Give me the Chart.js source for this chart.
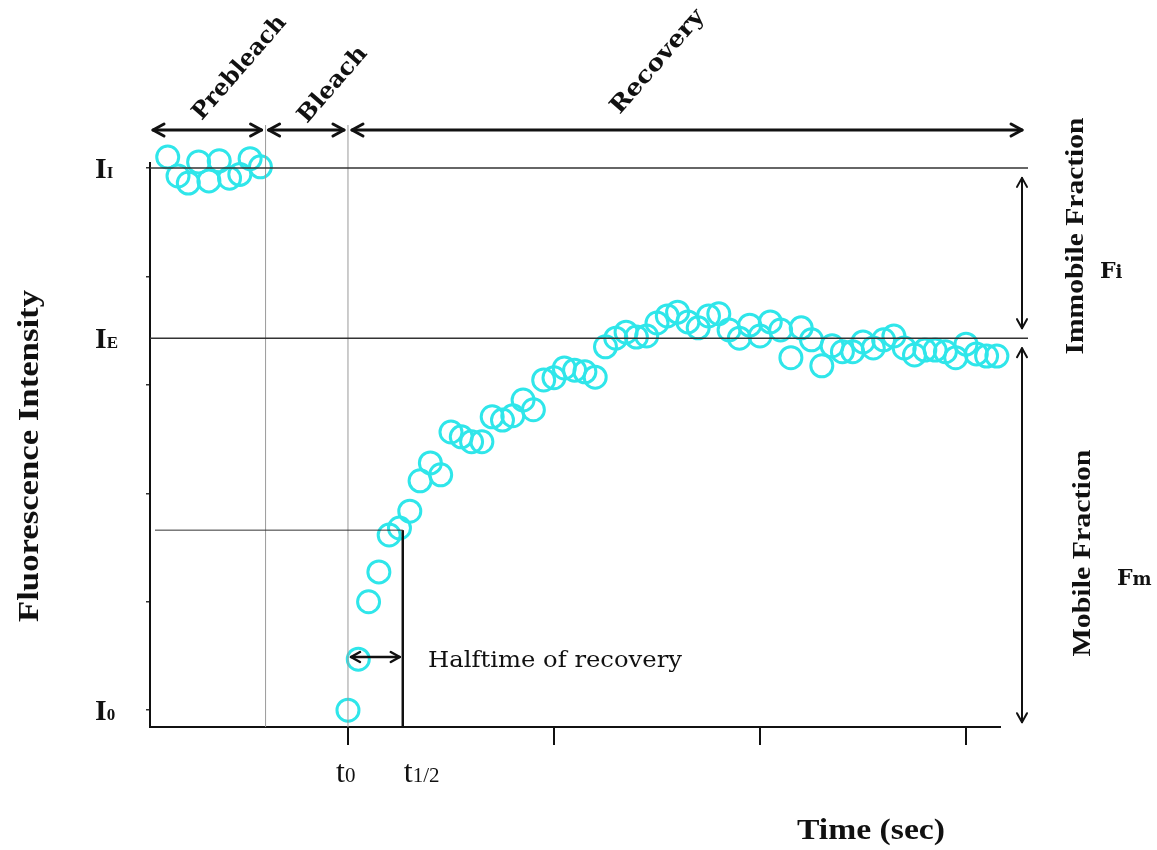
<!DOCTYPE html>
<html><head><meta charset="utf-8">
<script src="https://cdn.jsdelivr.net/npm/chart.js@4/dist/chart.umd.min.js"></script>
<style>html,body{margin:0;padding:0;background:#fff}#wrap{width:1157px;height:850px;position:relative}</style>
</head><body><div id="wrap"><canvas id="c"></canvas></div>
<script>
// ---- data (time in sec, intensity in % of prebleach) ----
const prebleachTime = [-8.75,-8.25,-7.75,-7.25,-6.75,-6.25,-5.75,-5.25,-4.75,-4.25];
const prebleachIntensity = [102.0,98.5,97.2,101.1,97.6,101.3,98.1,98.8,101.7,100.2];
const recoveryTime = [0,0.5,1,1.5,2,2.5,3,3.5,4,4.5,5,5.5,6,6.5,7,7.5,8,8.5,9,9.5,
  10,10.5,11,11.5,12,12.5,13,13.5,14,14.5,15,15.5,16,16.5,17,17.5,18,18.5,19,19.5,
  20,20.5,21,21.5,22,22.5,23,23.5,24,24.5,25,25.5,26,26.5,27,27.5,28,28.5,29,29.5,
  30,30.5,31,31.5];
const recoveryIntensity = [0.0,9.4,20.0,25.5,32.3,33.6,36.7,42.3,45.6,43.4,
  51.3,50.4,49.5,49.5,54.1,53.5,54.3,57.2,55.4,60.9,
  61.3,63.1,62.7,62.4,61.4,67.0,68.6,69.7,68.8,69.0,
  71.4,72.7,73.4,71.6,70.5,72.7,73.1,70.1,68.6,71.0,
  69.0,71.6,70.1,65.0,70.5,68.3,63.5,67.2,66.1,66.1,
  67.9,66.8,68.3,69.0,66.8,65.5,66.4,66.4,66.1,65.0,
  67.5,65.7,65.3,65.3];
const xTickValues = [0,10,20,30];
const yTickValues = [0,20,40,60,80,100];
const levelValues = [100, 68.6, 0];          // I_I, I_E, I_0
const levelSubs = ['I','E','0'];
const halfLevel = 33.2;                        // half of recovered intensity
const tHalf = 2.66;
const bleachStart = -4.0;
const phaseNames = ['Prebleach','Bleach','Recovery'];
const phaseBounds = [-9.61, -4.0, 0, 32.72];

const toPts = (xs, ys) => xs.map((x,i)=>({x:x, y:ys[i]}));

function drawText(ctx, s, x, y, font, o) {
  o = o || {};
  ctx.save();
  ctx.translate(x, y);
  if (o.rot) ctx.rotate(o.rot);
  ctx.font = font;
  ctx.textAlign = o.align || 'center';
  ctx.textBaseline = o.base || 'middle';
  ctx.fillStyle = o.color || '#111';
  if (o.width) { const w = ctx.measureText(s).width; ctx.scale(o.width / w, 1); }
  ctx.fillText(s, 0, 0);
  ctx.restore();
}
function subText(ctx, main, sub, x, base, f1, f2) {
  ctx.save();
  ctx.fillStyle = '#111';
  ctx.textAlign = 'left'; ctx.textBaseline = 'alphabetic';
  ctx.font = f1; ctx.fillText(main, x, base);
  const w = ctx.measureText(main).width;
  ctx.font = f2; ctx.fillText(sub, x + w, base);
  ctx.restore();
}
function line(ctx, x1, y1, x2, y2, lw, col) {
  ctx.save(); ctx.beginPath(); ctx.moveTo(x1, y1); ctx.lineTo(x2, y2);
  ctx.lineWidth = lw; ctx.strokeStyle = col; ctx.stroke(); ctx.restore();
}
function dblArrow(ctx, x1, y1, x2, y2, lw, hl, hw) {
  const a = Math.atan2(y2 - y1, x2 - x1);
  ctx.save();
  ctx.strokeStyle = '#111'; ctx.lineWidth = lw; ctx.lineCap = 'round'; ctx.lineJoin = 'round';
  ctx.beginPath(); ctx.moveTo(x1, y1); ctx.lineTo(x2, y2); ctx.stroke();
  [[x1, y1, a + Math.PI], [x2, y2, a]].forEach(([x, y, ang]) => {
    ctx.beginPath();
    ctx.moveTo(x - hl * Math.cos(ang) + hw * Math.sin(ang), y - hl * Math.sin(ang) - hw * Math.cos(ang));
    ctx.lineTo(x, y);
    ctx.lineTo(x - hl * Math.cos(ang) - hw * Math.sin(ang), y - hl * Math.sin(ang) + hw * Math.cos(ang));
    ctx.stroke();
  });
  ctx.restore();
}

const annot = {
  id: 'annot',
  afterDraw(chart) {
    const ctx = chart.ctx, xs = chart.scales.x, ys = chart.scales.y, ca = chart.chartArea;
    const X = v => xs.getPixelForValue(v), Y = v => ys.getPixelForValue(v);
    const rightEnd = 1028;
    // gray phase separators
    line(ctx, X(bleachStart), 125, X(bleachStart), ca.bottom, 1, '#9a9a9a');
    line(ctx, X(0), 125, X(0), ca.bottom, 1, '#9a9a9a');
    // level lines
    line(ctx, ca.left, Y(levelValues[0]), rightEnd, Y(levelValues[0]), 1.5, '#333');
    line(ctx, ca.left, Y(levelValues[1]), rightEnd, Y(levelValues[1]), 1.5, '#333');
    // half recovery
    line(ctx, ca.left + 5, Y(halfLevel), X(tHalf), Y(halfLevel), 1, '#333');
    line(ctx, X(tHalf), Y(halfLevel), X(tHalf), ca.bottom, 2.5, '#111');
    // halftime arrow
    dblArrow(ctx, X(0) + 3, 657, X(tHalf) - 3, 657, 2.5, 9, 5);
    drawText(ctx, 'Halftime of recovery', 555, 661, '22px "DejaVu Serif"', {width: 254});
    // top phase arrows
    const ay = 130;
    dblArrow(ctx, X(phaseBounds[0]) + 3, ay, X(phaseBounds[1]) - 4, ay, 3, 11, 6);
    dblArrow(ctx, X(phaseBounds[1]) + 3, ay, X(phaseBounds[2]) - 4, ay, 3, 11, 6);
    dblArrow(ctx, X(phaseBounds[2]) + 4, ay, X(phaseBounds[3]), ay, 3, 11, 6);
    const rot = -49 * Math.PI / 180;
    drawText(ctx, phaseNames[0], 240, 68, 'bold 23px "DejaVu Serif"', {rot: rot, width: 130});
    drawText(ctx, phaseNames[1], 333, 85, 'bold 23px "DejaVu Serif"', {rot: rot, width: 93});
    drawText(ctx, phaseNames[2], 658, 62, 'bold 23px "DejaVu Serif"', {rot: rot, width: 130});
    // right fraction arrows
    dblArrow(ctx, 1022, Y(levelValues[0]) + 10, 1022, Y(levelValues[1]) - 10, 2, 9, 5);
    dblArrow(ctx, 1022, Y(levelValues[1]) + 10, 1022, Y(levelValues[2]) + 12, 2, 9, 5);
    drawText(ctx, 'Immobile Fraction', 1076, 236, 'bold 26px "Liberation Serif"', {rot: -Math.PI / 2, width: 237});
    drawText(ctx, 'Mobile Fraction', 1083, 553, 'bold 26px "Liberation Serif"', {rot: -Math.PI / 2, width: 207});
    subText(ctx, 'F', 'i', 1100, 278, 'bold 22px "DejaVu Serif"', 'bold 18px "DejaVu Serif"');
    subText(ctx, 'F', 'm', 1117, 585, 'bold 22px "DejaVu Serif"', 'bold 18px "DejaVu Serif"');
    // y level labels
    levelValues.forEach((v, i) => {
      subText(ctx, 'I', levelSubs[i], 95, Y(v) + 10, 'bold 30px "Liberation Serif"', 'bold 17px "Liberation Serif"');
    });
    // t labels
    subText(ctx, 't', '0', 336, 782, '32px "Liberation Serif"', '21px "Liberation Serif"');
    subText(ctx, 't', '1/2', X(tHalf) + 1, 782, '32px "Liberation Serif"', '21px "Liberation Serif"');
    // axis titles
    drawText(ctx, 'Fluorescence Intensity', 30, 456, 'bold 30px "Liberation Serif"', {rot: -Math.PI / 2, width: 332});
    drawText(ctx, 'Time (sec)', 871, 831, 'bold 30px "Liberation Serif"', {width: 148});
  }
};

const cyan = '#2fe6ea';
new Chart(document.getElementById('c'), {
  type: 'scatter',
  data: {
    datasets: [
      {label: 'Prebleach', data: toPts(prebleachTime, prebleachIntensity)},
      {label: 'Recovery', data: toPts(recoveryTime, recoveryIntensity)}
    ].map(d => Object.assign(d, {
      pointStyle: 'circle', pointRadius: 11, pointHoverRadius: 11, pointBorderWidth: 3,
      borderColor: cyan, backgroundColor: 'rgba(0,0,0,0)', pointBackgroundColor: 'rgba(0,0,0,0)',
      pointBorderColor: cyan, clip: false, showLine: false
    }))
  },
  options: {
    responsive: true, maintainAspectRatio: false, animation: false, devicePixelRatio: 1,
    layout: {padding: {left: 146, right: 157, top: 163, bottom: 105}},
    plugins: {legend: {display: false}, tooltip: {enabled: false}, title: {display: false}},
    events: [],
    scales: {
      x: {
        type: 'linear', min: -9.61, max: 31.65,
        afterBuildTicks: s => { s.ticks = xTickValues.map(v => ({value: v})); },
        ticks: {display: false},
        grid: {display: true, drawOnChartArea: false, drawTicks: true, tickLength: 18, tickColor: '#111', tickWidth: 2, lineWidth: 2},
        border: {display: true, color: '#111', width: 2}
      },
      y: {
        type: 'linear', min: -3.1, max: 100.9,
        afterBuildTicks: s => { s.ticks = yTickValues.map(v => ({value: v})); },
        ticks: {display: false},
        grid: {display: true, drawOnChartArea: false, drawTicks: true, tickLength: 4, tickColor: '#333', tickWidth: 1.5, lineWidth: 1.5},
        border: {display: true, color: '#111', width: 2}
      }
    }
  },
  plugins: [annot]
});
</script></body></html>
